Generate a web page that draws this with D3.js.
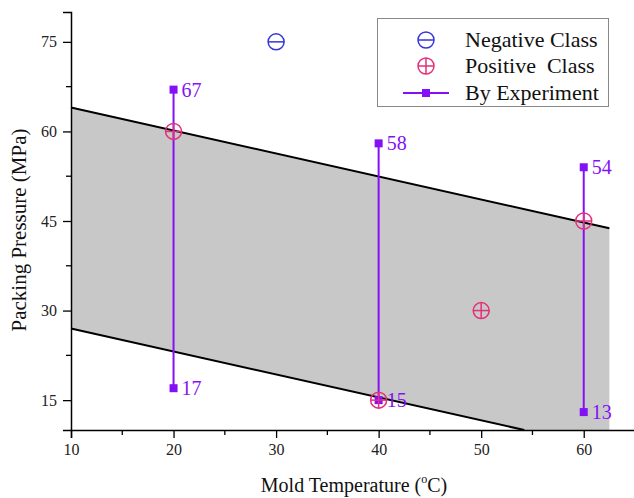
<!DOCTYPE html>
<html>
<head>
<meta charset="utf-8">
<script src="https://cdn.jsdelivr.net/npm/d3@7"></script>
<style>
  body { margin: 0; background: #fff; }
  svg { display: block; font-family: "Liberation Serif", "Times New Roman", serif; }
</style>
</head>
<body>
<div id="chart"></div>
<script>
const width = 634, height = 498;

// data
const negX = [30], negY = [75];
const posX = [20, 40, 50, 60], posY = [60, 15, 30, 45];
const expX = [20, 40, 60];
const expLow = [17, 15, 13];
const expHigh = [67, 58, 54];
const upperLine = [[10, 64], [62.5, 43.8]];
const lowerLine = [[10, 27], [54.2, 10]];
const xTicks = [10, 20, 30, 40, 50, 60];
const xMinor = [15, 25, 35, 45, 55];
const yTicks = [15, 30, 45, 60, 75];
const yMinor = [22.5, 37.5, 52.5, 67.5];
const legendLabels = ["Negative Class", "Positive  Class", "By Experiment"];

const blue = "#3535d8", pink = "#e3307a", purple = "#8410f5";

const x = d3.scaleLinear().domain([10, 65]).range([71, 635]);
const y = d3.scaleLinear().domain([10, 80]).range([430, 12]);

const svg = d3.select("#chart").append("svg")
  .attr("width", width)
  .attr("height", height);

// gray band
const band = [upperLine[0], upperLine[1], [upperLine[1][0], 10], lowerLine[1], lowerLine[0]];
svg.append("path")
  .attr("d", d3.line().x(d => x(d[0])).y(d => y(d[1]))(band) + "Z")
  .attr("fill", "#c8c8c8");

[upperLine, lowerLine].forEach(l => {
  svg.append("path")
    .attr("d", d3.line().x(d => x(d[0])).y(d => y(d[1]))(l))
    .attr("stroke", "#000")
    .attr("stroke-width", 2)
    .attr("fill", "none");
});

// axes
const xAxis = svg.append("g")
  .attr("transform", `translate(0,${y(10)})`)
  .call(d3.axisBottom(x).tickValues(xTicks).tickSize(8).tickPadding(6).tickFormat(d3.format("d")));
xAxis.append("g").selectAll("line").data(xMinor).join("line")
  .attr("x1", d => x(d)).attr("x2", d => x(d)).attr("y1", 0).attr("y2", 5)
  .attr("stroke", "#000").attr("stroke-width", 1.3);

const yAxis = svg.append("g")
  .attr("transform", `translate(${x(10)},0)`)
  .call(d3.axisLeft(y).tickValues(yTicks).tickSize(8).tickPadding(6).tickFormat(d3.format("d")));
yAxis.append("g").selectAll("line").data(yMinor).join("line")
  .attr("y1", d => y(d)).attr("y2", d => y(d)).attr("x1", 0).attr("x2", -5)
  .attr("stroke", "#000").attr("stroke-width", 1.3);

[xAxis, yAxis].forEach(a => {
  a.select(".domain").attr("stroke", "#000").attr("stroke-width", 1.5);
  a.selectAll(".tick line").attr("stroke", "#000").attr("stroke-width", 1.3);
  a.selectAll("text").attr("font-family", "Liberation Serif, serif").attr("font-size", 16).attr("fill", "#222");
});

// axis titles
const xt = svg.append("text")
  .attr("x", 354).attr("y", 492)
  .attr("text-anchor", "middle")
  .attr("font-size", 20).attr("fill", "#111");
xt.append("tspan").text("Mold Temperature (");
xt.append("tspan").text("o").attr("font-size", 12).attr("dy", -9);
xt.append("tspan").text("C)").attr("dy", 9);

svg.append("text")
  .attr("transform", `translate(26,${230}) rotate(-90)`)
  .attr("text-anchor", "middle")
  .attr("font-size", 21).attr("fill", "#111")
  .text("Packing Pressure (MPa)");

// experiment ranges
const exp = svg.append("g");
expX.forEach((xv, i) => {
  exp.append("line")
    .attr("x1", x(xv)).attr("x2", x(xv))
    .attr("y1", y(expLow[i])).attr("y2", y(expHigh[i]))
    .attr("stroke", purple).attr("stroke-width", 2);
  [expLow[i], expHigh[i]].forEach(v => {
    exp.append("rect")
      .attr("x", x(xv) - 4).attr("y", y(v) - 4)
      .attr("width", 8).attr("height", 8)
      .attr("fill", purple);
    exp.append("text")
      .attr("x", x(xv) + 8).attr("y", y(v) + 7)
      .attr("font-size", 20).attr("fill", purple)
      .text(v);
  });
});

// class markers
function negMarker(g, cx, cy) {
  g.append("circle").attr("cx", cx).attr("cy", cy).attr("r", 8)
    .attr("fill", "none").attr("stroke", blue).attr("stroke-width", 1.5);
  g.append("line").attr("x1", cx - 8).attr("x2", cx + 8).attr("y1", cy).attr("y2", cy)
    .attr("stroke", blue).attr("stroke-width", 1.5);
}
function posMarker(g, cx, cy) {
  g.append("circle").attr("cx", cx).attr("cy", cy).attr("r", 8)
    .attr("fill", "none").attr("stroke", pink).attr("stroke-width", 1.5);
  g.append("line").attr("x1", cx - 8).attr("x2", cx + 8).attr("y1", cy).attr("y2", cy)
    .attr("stroke", pink).attr("stroke-width", 1.5);
  g.append("line").attr("x1", cx).attr("x2", cx).attr("y1", cy - 8).attr("y2", cy + 8)
    .attr("stroke", pink).attr("stroke-width", 1.5);
}
const marks = svg.append("g");
negX.forEach((v, i) => negMarker(marks, x(v), y(negY[i])));
posX.forEach((v, i) => posMarker(marks, x(v), y(posY[i])));

// legend
const lg = svg.append("g");
lg.append("rect")
  .attr("x", 377.5).attr("y", 18.5).attr("width", 231).attr("height", 88)
  .attr("fill", "#fff").attr("stroke", "#888").attr("stroke-width", 1);
const rowY = [40, 66, 93];
negMarker(lg, 426, rowY[0]);
posMarker(lg, 426, rowY[1]);
lg.append("line").attr("x1", 403).attr("x2", 449).attr("y1", rowY[2]).attr("y2", rowY[2])
  .attr("stroke", purple).attr("stroke-width", 2);
lg.append("rect").attr("x", 422).attr("y", rowY[2] - 4).attr("width", 8).attr("height", 8).attr("fill", purple);
legendLabels.forEach((t, i) => {
  lg.append("text")
    .attr("x", 465).attr("y", rowY[i] + 7)
    .attr("font-size", 22).attr("fill", "#111")
    .style("white-space", "pre")
    .text(t);
});
</script>
</body>
</html>
